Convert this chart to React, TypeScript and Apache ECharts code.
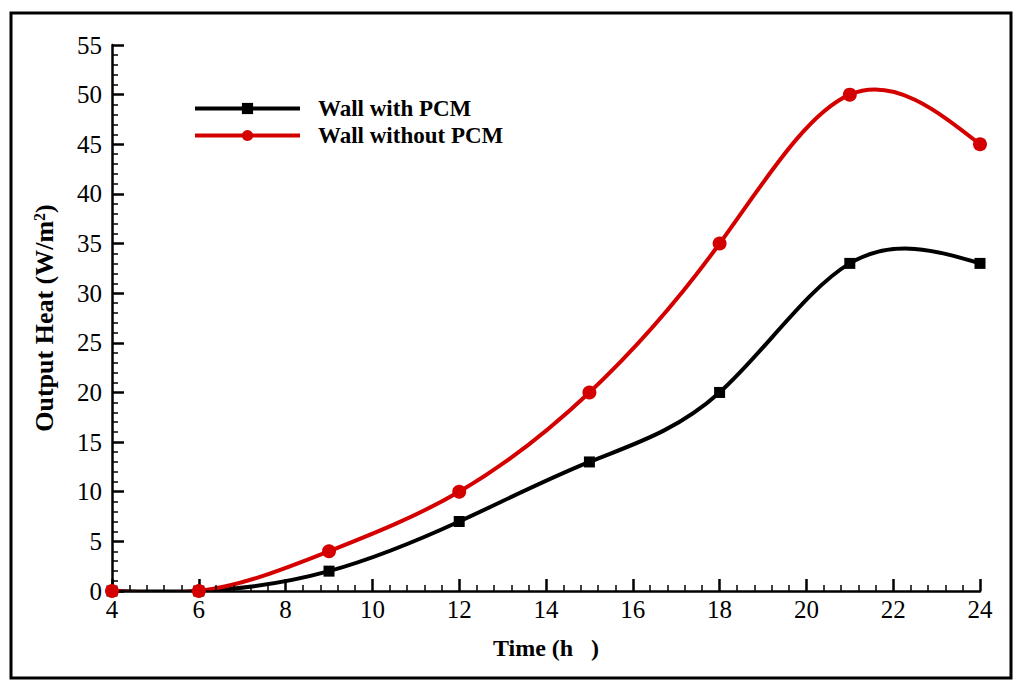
import React, { useEffect, useRef } from 'react';
import * as echarts from 'echarts';

const hours = [4, 6, 9, 12, 15, 18, 21, 24];
const withPCM = [0, 0, 2, 7, 13, 20, 33, 33];
const withoutPCM = [0, 0, 4, 10, 20, 35, 50, 45];
const seriesNames = ['Wall with PCM', 'Wall without PCM'];
const seriesColors = ['#000000', '#d40000'];

const FONT = '"Liberation Serif", "Times New Roman", serif';

// slopes of a natural cubic spline through (xs, ys), used to draw the curve as bezier segments
const splineSlopes = (xs: number[], ys: number[]) => {
  const n = xs.length;
  const h = xs.slice(1).map((x, i) => x - xs[i]);
  const a = new Array(n).fill(0);
  const b = new Array(n).fill(1);
  const c = new Array(n).fill(0);
  const r = new Array(n).fill(0);
  for (let i = 1; i < n - 1; i++) {
    a[i] = h[i - 1] / 6;
    b[i] = (h[i - 1] + h[i]) / 3;
    c[i] = h[i] / 6;
    r[i] = (ys[i + 1] - ys[i]) / h[i] - (ys[i] - ys[i - 1]) / h[i - 1];
  }
  // Thomas algorithm
  for (let i = 1; i < n; i++) {
    const m = a[i] / b[i - 1];
    b[i] -= m * c[i - 1];
    r[i] -= m * r[i - 1];
  }
  const M = new Array(n).fill(0);
  M[n - 1] = r[n - 1] / b[n - 1];
  for (let i = n - 2; i >= 0; i--) M[i] = (r[i] - c[i] * M[i + 1]) / b[i];
  const left: number[] = [];
  const right: number[] = [];
  for (let i = 0; i < n - 1; i++) {
    const s = (ys[i + 1] - ys[i]) / h[i];
    left.push(s - (h[i] * (2 * M[i] + M[i + 1])) / 6);
    right.push(s + (h[i] * (M[i] + 2 * M[i + 1])) / 6);
  }
  return { left, right };
};

const curveSeries = (ys: number[], color: string) => {
  const { left, right } = splineSlopes(hours, ys);
  return {
    type: 'custom' as const,
    silent: true,
    clip: true,
    z: 2,
    data: hours.map((hr, i) => [hr, ys[i]]),
    encode: { x: 0, y: 1 },
    renderItem: (params: any, api: any) => {
      if (params.dataIndex !== 0) return null;
      const p0 = api.coord([hours[0], ys[0]]);
      let d = `M${p0[0]},${p0[1]}`;
      for (let i = 0; i < hours.length - 1; i++) {
        const hh = (hours[i + 1] - hours[i]) / 3;
        const c1 = api.coord([hours[i] + hh, ys[i] + left[i] * hh]);
        const c2 = api.coord([hours[i + 1] - hh, ys[i + 1] - right[i] * hh]);
        const p = api.coord([hours[i + 1], ys[i + 1]]);
        d += ` C${c1[0]},${c1[1]} ${c2[0]},${c2[1]} ${p[0]},${p[1]}`;
      }
      return {
        type: 'path',
        shape: { pathData: d },
        style: { fill: 'none', stroke: color, lineWidth: 4 },
      };
    },
  };
};

const App: React.FC = () => {
  const chartRef = useRef<HTMLDivElement>(null);

  useEffect(() => {
    if (!chartRef.current) return;
    const chart = echarts.init(chartRef.current, undefined, { renderer: 'svg' });

    const pairs = (ys: number[]) => hours.map((h, i) => [h, ys[i]]);

    const axisCommon = {
      z: 4,
      axisLine: { show: true, lineStyle: { color: '#000', width: 2.5 } },
      axisTick: { show: true, inside: true, length: 12, lineStyle: { color: '#000', width: 2.5 } },
      minorTick: { show: true, splitNumber: 5, length: 6, lineStyle: { color: '#000', width: 1.5 } },
      splitLine: { show: false },
      axisLabel: { color: '#000', fontFamily: FONT, fontSize: 25 },
      nameTextStyle: { color: '#000', fontFamily: FONT, fontSize: 24, fontWeight: 'bold' as const },
    };

    const option: echarts.EChartsOption = {
      animation: false,
      backgroundColor: '#fff',
      grid: { left: 112, right: 44, top: 45, bottom: 108 },
      graphic: [
        {
          type: 'rect',
          shape: { x: 11, y: 13, width: 1000, height: 665 },
          style: { fill: 'none', stroke: '#000', lineWidth: 3 },
          silent: true,
        },
      ],
      legend: {
        orient: 'vertical',
        left: 193,
        top: 97,
        padding: 0,
        itemWidth: 105,
        itemHeight: 14,
        itemGap: 4,
        data: seriesNames.map((name, i) => ({
          name,
          lineStyle: { color: seriesColors[i], width: 4, opacity: 1 },
        })),
        textStyle: {
          color: '#000',
          fontFamily: FONT,
          fontSize: 23,
          fontWeight: 'bold',
          padding: [0, 0, 0, 13],
        },
      },
      xAxis: {
        type: 'value',
        min: 4,
        max: 24,
        interval: 2,
        name: 'Time (h   )',
        nameLocation: 'middle',
        nameGap: 45,
        ...axisCommon,
        axisLabel: { ...axisCommon.axisLabel, margin: 6 },
      },
      yAxis: {
        type: 'value',
        min: 0,
        max: 55,
        interval: 5,
        name: 'Output Heat (W/m{sup|2})',
        nameLocation: 'middle',
        nameGap: 55,
        ...axisCommon,
        nameTextStyle: {
          ...axisCommon.nameTextStyle,
          fontSize: 26,
          rich: {
            sup: {
              fontFamily: FONT,
              fontSize: 16,
              fontWeight: 'bold',
              color: '#000',
              verticalAlign: 'top',
            },
          },
        },
        axisLabel: { ...axisCommon.axisLabel, margin: 10 },
      },
      series: [
        curveSeries(withPCM, seriesColors[0]),
        curveSeries(withoutPCM, seriesColors[1]),
        {
          name: seriesNames[0],
          type: 'line',
          z: 6,
          data: pairs(withPCM),
          symbol: 'rect',
          symbolSize: 11,
          lineStyle: { color: seriesColors[0], width: 4, opacity: 0 },
          itemStyle: { color: seriesColors[0] },
        },
        {
          name: seriesNames[1],
          type: 'line',
          z: 6,
          data: pairs(withoutPCM),
          symbol: 'circle',
          symbolSize: 14,
          lineStyle: { color: seriesColors[1], width: 4, opacity: 0 },
          itemStyle: { color: seriesColors[1] },
        },
      ],
    };

    chart.setOption(option);
    return () => {
      chart.dispose();
    };
  }, []);

  return (
    <div
      ref={chartRef}
      style={{ position: 'fixed', left: 0, top: 0, width: 1024, height: 699, background: '#fff' }}
    />
  );
};

export default App;
